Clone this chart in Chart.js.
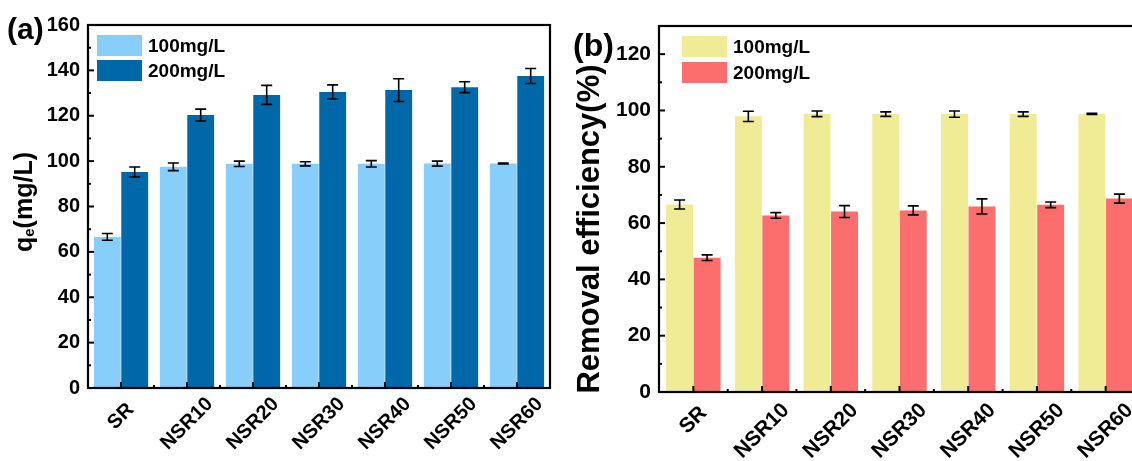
<!DOCTYPE html>
<html>
<head>
<meta charset="utf-8">
<script src="https://cdn.jsdelivr.net/npm/chart.js@4.4.0/dist/chart.umd.min.js"></script>
<style>
  html, body { margin: 0; padding: 0; background: #fff; }
  body { width: 1132px; height: 461px; overflow: hidden; position: relative; }
  #wrapA { position: absolute; left: 0; top: 0; width: 566px; height: 461px; }
  #wrapB { position: absolute; left: 566px; top: 0; width: 620px; height: 461px; }
</style>
</head>
<body>
<div id="wrapA"><canvas id="chartA"></canvas></div>
<div id="wrapB"><canvas id="chartB"></canvas></div>
<script>
const categories = ['SR', 'NSR10', 'NSR20', 'NSR30', 'NSR40', 'NSR50', 'NSR60'];
const seriesLabels = ['100mg/L', '200mg/L'];

// (a) adsorption capacity qe (mg/L)
const qe100 = [66.6, 97.5, 98.8, 98.8, 98.8, 98.9, 99.0];
const qe100Err = [1.5, 1.7, 1.2, 0.9, 1.4, 1.1, 0.2];
const qe200 = [95.2, 120.3, 129.2, 130.5, 131.3, 132.6, 137.5];
const qe200Err = [2.2, 2.6, 4.2, 3.1, 5.0, 2.4, 3.3];

// (b) removal efficiency (%)
const rem100 = [66.6, 97.9, 98.8, 98.7, 98.7, 98.7, 98.8];
const rem100Err = [1.6, 1.8, 1.0, 0.8, 1.1, 0.8, 0.2];
const rem200 = [47.7, 62.7, 64.1, 64.5, 65.9, 66.5, 68.7];
const rem200Err = [1.0, 1.0, 2.1, 1.6, 2.7, 1.0, 1.6];

const FONT = '"Liberation Sans", Arial, sans-serif';

const decor = {
  id: 'decor',
  afterDatasetsDraw(chart, args, o) {
    const ctx = chart.ctx;
    const y = chart.scales.y;
    ctx.save();
    ctx.strokeStyle = '#000';
    ctx.lineWidth = 1.6;
    chart.data.datasets.forEach((ds, di) => {
      const meta = chart.getDatasetMeta(di);
      ds.data.forEach((v, i) => {
        const e = o.errors[di][i];
        const x = meta.data[i].x;
        const y1 = y.getPixelForValue(v + e);
        const y2 = y.getPixelForValue(v - e);
        ctx.beginPath();
        ctx.moveTo(x, y1); ctx.lineTo(x, y2);
        ctx.moveTo(x - 5.5, y1); ctx.lineTo(x + 5.5, y1);
        ctx.moveTo(x - 5.5, y2); ctx.lineTo(x + 5.5, y2);
        ctx.stroke();
      });
    });
    ctx.restore();
  },
  afterDraw(chart, args, o) {
    const ctx = chart.ctx;
    const a = chart.chartArea;
    const xs = chart.scales.x, ys = chart.scales.y;
    ctx.save();
    ctx.strokeStyle = '#000';
    ctx.fillStyle = '#000';
    ctx.lineWidth = 2.2;
    ctx.strokeRect(a.left, a.top, a.right - a.left, a.bottom - a.top);

    // inner ticks on y
    ctx.lineWidth = 2;
    for (let v = 0; v <= o.yMax; v += 10) {
      const py = ys.getPixelForValue(v);
      if (py < a.top + 1) continue;
      const len = v % 20 === 0 ? 6 : 3;
      ctx.beginPath(); ctx.moveTo(a.left, py); ctx.lineTo(a.left + len, py); ctx.stroke();
    }
    // inner ticks on x
    const n = categories.length;
    for (let i = 0; i < n; i++) {
      const px = xs.getPixelForTick(i);
      ctx.beginPath(); ctx.moveTo(px, a.bottom); ctx.lineTo(px, a.bottom - 6); ctx.stroke();
      if (i > 0) {
        const mx = (px + xs.getPixelForTick(i - 1)) / 2;
        ctx.beginPath(); ctx.moveTo(mx, a.bottom); ctx.lineTo(mx, a.bottom - 3); ctx.stroke();
      }
    }

    // rotated category labels, centred under each tick
    ctx.font = 'bold ' + o.xFont + 'px ' + FONT;
    ctx.textAlign = 'center';
    ctx.textBaseline = 'middle';
    categories.forEach((c, i) => {
      const px = xs.getPixelForTick(i);
      const L = ctx.measureText(c).width;
      const cy = a.bottom + o.xOff[0] + o.xOff[1] * L;
      ctx.save();
      ctx.translate(px, cy);
      ctx.rotate(-Math.PI / 4);
      ctx.fillText(c, 0, 0);
      ctx.restore();
    });

    // legend
    ctx.font = 'bold 19px ' + FONT;
    ctx.textAlign = 'left';
    chart.data.datasets.forEach((ds, di) => {
      const lg = o.legend[di];
      ctx.fillStyle = ds.backgroundColor;
      ctx.fillRect(lg[0], lg[1], 45, 21);
      ctx.fillStyle = '#000';
      ctx.fillText(ds.label, lg[0] + 51, lg[1] + 12);
    });

    // panel label
    ctx.font = 'bold ' + o.tag[3] + 'px ' + FONT;
    ctx.fillText(o.tag[0], o.tag[1], o.tag[2]);

    // y title
    ctx.save();
    ctx.translate(o.title.x, o.title.y);
    ctx.rotate(-Math.PI / 2);
    const parts = o.title.parts;
    let total = 0;
    parts.forEach(p => { ctx.font = 'bold ' + p.size + 'px ' + FONT; p.w = ctx.measureText(p.t).width; total += p.w; });
    let tx = -total / 2;
    ctx.textAlign = 'left';
    ctx.textBaseline = 'middle';
    parts.forEach(p => {
      ctx.font = 'bold ' + p.size + 'px ' + FONT;
      ctx.fillText(p.t, tx, p.dy || 0);
      tx += p.w;
    });
    ctx.restore();
    ctx.restore();
  }
};

function makeChart(id, d1, d2, colors, cfg) {
  return new Chart(document.getElementById(id), {
    type: 'bar',
    data: {
      labels: categories,
      datasets: [
        { label: seriesLabels[0], data: d1, backgroundColor: colors[0] },
        { label: seriesLabels[1], data: d2, backgroundColor: colors[1] }
      ]
    },
    options: {
      responsive: true,
      maintainAspectRatio: false,
      animation: false,
      layout: { padding: cfg.padding },
      datasets: { bar: { categoryPercentage: cfg.catPct, barPercentage: 0.98 } },
      scales: {
        x: {
          grid: { display: false, drawTicks: false },
          border: { display: false },
          ticks: { display: false },
          afterFit: s => { s.height = cfg.xHeight; }
        },
        y: {
          min: 0,
          max: cfg.yMax,
          grid: { display: false, drawTicks: false },
          border: { display: false },
          afterBuildTicks: s => { s.ticks = s.ticks.filter(t => t.value % 20 === 0); },
          ticks: {
            stepSize: 20,
            padding: 8,
            color: '#000',
            font: { family: FONT, size: cfg.yFont, weight: 'bold' }
          },
          afterFit: s => { s.width = cfg.yWidth; }
        }
      },
      plugins: {
        legend: { display: false },
        tooltip: { enabled: false },
        decor: cfg.decor
      }
    },
    plugins: [decor]
  });
}

makeChart('chartA', qe100, qe200, ['#87CEFA', '#0067A9'], {
  padding: { left: 0, right: 16, top: 25, bottom: 0 },
  catPct: 0.83, xHeight: 73, yWidth: 88, yMax: 160, yFont: 20,
  decor: {
    errors: [qe100Err, qe200Err],
    yMax: 160,
    xFont: 20, xOff: [23, 0.2],
    legend: [[97, 35], [97, 60]],
    tag: ['(a)', 7, 31, 30],
    title: { x: 25, y: 202, parts: [
      { t: 'q', size: 25 }, { t: 'e', size: 15, dy: 5 }, { t: '(mg/L)', size: 25 }
    ] }
  }
});

makeChart('chartB', rem100, rem200, ['#F0EB95', '#FC6E6E'], {
  padding: { left: 0, right: 46, top: 26, bottom: 0 },
  catPct: 0.8, xHeight: 69, yWidth: 93, yMax: 130, yFont: 21,
  decor: {
    errors: [rem100Err, rem200Err],
    yMax: 130,
    xFont: 21, xOff: [20, 0.28],
    legend: [[116, 36], [116, 62]],
    tag: ['(b)', 7, 47, 32],
    title: { x: 24, y: 229, parts: [ { t: 'Removal efficiency(%)', size: 31 } ] }
  }
});
</script>
</body>
</html>
